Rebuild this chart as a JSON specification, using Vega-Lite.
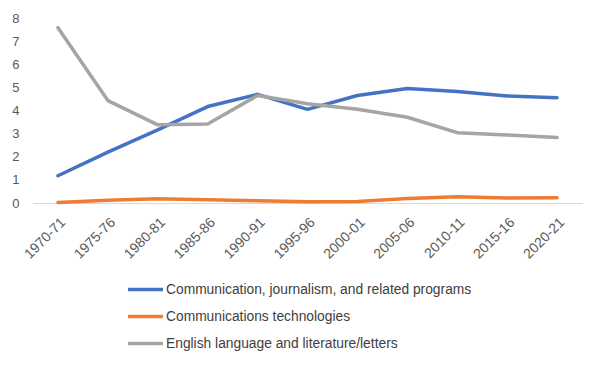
{
  "$schema": "https://vega.github.io/schema/vega-lite/v6.json",
  "width": 549,
  "height": 185,
  "autosize": {"type": "none"},
  "padding": {"left": 33, "top": 18, "right": 20, "bottom": 163},
  "background": "white",
  "data": {
    "values": [
      {"year": "1970-71", "series": "Communication, journalism, and related programs", "value": 1.18},
      {"year": "1975-76", "series": "Communication, journalism, and related programs", "value": 2.2},
      {"year": "1980-81", "series": "Communication, journalism, and related programs", "value": 3.16},
      {"year": "1985-86", "series": "Communication, journalism, and related programs", "value": 4.17},
      {"year": "1990-91", "series": "Communication, journalism, and related programs", "value": 4.7},
      {"year": "1995-96", "series": "Communication, journalism, and related programs", "value": 4.05},
      {"year": "2000-01", "series": "Communication, journalism, and related programs", "value": 4.65},
      {"year": "2005-06", "series": "Communication, journalism, and related programs", "value": 4.95},
      {"year": "2010-11", "series": "Communication, journalism, and related programs", "value": 4.82},
      {"year": "2015-16", "series": "Communication, journalism, and related programs", "value": 4.63},
      {"year": "2020-21", "series": "Communication, journalism, and related programs", "value": 4.55},
      {"year": "1970-71", "series": "Communications technologies", "value": 0.02},
      {"year": "1975-76", "series": "Communications technologies", "value": 0.12},
      {"year": "1980-81", "series": "Communications technologies", "value": 0.18},
      {"year": "1985-86", "series": "Communications technologies", "value": 0.14},
      {"year": "1990-91", "series": "Communications technologies", "value": 0.1},
      {"year": "1995-96", "series": "Communications technologies", "value": 0.05},
      {"year": "2000-01", "series": "Communications technologies", "value": 0.06},
      {"year": "2005-06", "series": "Communications technologies", "value": 0.19},
      {"year": "2010-11", "series": "Communications technologies", "value": 0.27},
      {"year": "2015-16", "series": "Communications technologies", "value": 0.22},
      {"year": "2020-21", "series": "Communications technologies", "value": 0.23},
      {"year": "1970-71", "series": "English language and literature/letters", "value": 7.58},
      {"year": "1975-76", "series": "English language and literature/letters", "value": 4.43},
      {"year": "1980-81", "series": "English language and literature/letters", "value": 3.38},
      {"year": "1985-86", "series": "English language and literature/letters", "value": 3.42},
      {"year": "1990-91", "series": "English language and literature/letters", "value": 4.65},
      {"year": "1995-96", "series": "English language and literature/letters", "value": 4.29},
      {"year": "2000-01", "series": "English language and literature/letters", "value": 4.05},
      {"year": "2005-06", "series": "English language and literature/letters", "value": 3.71},
      {"year": "2010-11", "series": "English language and literature/letters", "value": 3.04},
      {"year": "2015-16", "series": "English language and literature/letters", "value": 2.94},
      {"year": "2020-21", "series": "English language and literature/letters", "value": 2.83}
    ]
  },
  "mark": {"type": "line", "strokeWidth": 3.5, "strokeCap": "round", "strokeJoin": "round"},
  "encoding": {
    "x": {
      "field": "year", "type": "ordinal", "sort": null,
      "scale": {"type": "point", "padding": 0.5},
      "axis": {
        "title": null, "ticks": false, "domainColor": "#D9D9D9", "domainWidth": 1,
        "labelAngle": -45, "labelFontSize": 14, "labelColor": "#595959",
        "labelFont": "Liberation Sans", "labelPadding": 12, "grid": false
      }
    },
    "y": {
      "field": "value", "type": "quantitative",
      "scale": {"domain": [0, 8], "nice": false},
      "axis": {
        "title": null, "ticks": false, "domain": false, "grid": false,
        "values": [0, 1, 2, 3, 4, 5, 6, 7, 8], "labelFontSize": 13,
        "labelColor": "#595959", "labelFont": "Liberation Sans", "labelPadding": 14
      }
    },
    "color": {
      "field": "series", "type": "nominal",
      "scale": {
        "domain": ["Communication, journalism, and related programs", "Communications technologies", "English language and literature/letters"],
        "range": ["#4472C4", "#ED7D31", "#A5A5A5"]
      },
      "legend": {
        "title": null, "orient": "none", "legendX": 93, "legendY": 252,
        "direction": "vertical", "symbolType": "stroke", "symbolSize": 1225,
        "symbolStrokeWidth": 3.5, "labelFontSize": 13.8, "labelColor": "#404040",
        "labelFont": "Liberation Sans", "rowPadding": -7.5, "labelOffset": 1, "labelLimit": 400
      }
    }
  },
  "config": {"view": {"stroke": null}}
}
